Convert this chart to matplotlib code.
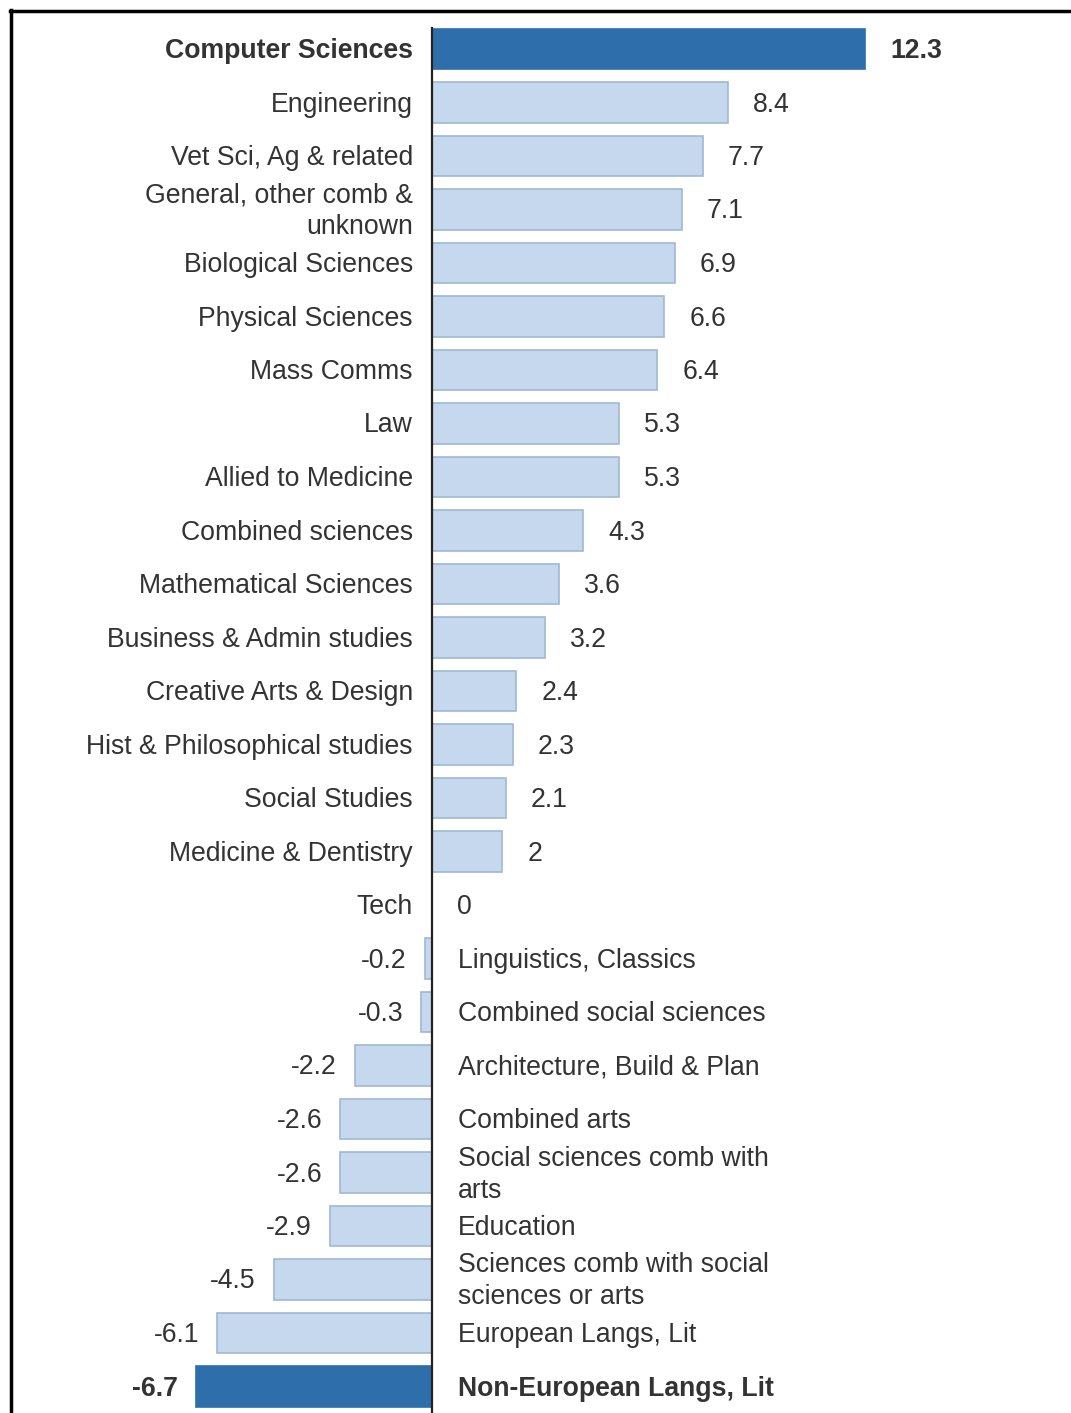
import matplotlib.pyplot as plt
from matplotlib.lines import Line2D

plt.rcParams["font.family"] = ["Liberation Sans", "DejaVu Sans"]

# data
categories = [
    "Computer Sciences", "Engineering", "Vet Sci, Ag & related",
    "General, other comb &\nunknown", "Biological Sciences", "Physical Sciences",
    "Mass Comms", "Law", "Allied to Medicine", "Combined sciences",
    "Mathematical Sciences", "Business & Admin studies", "Creative Arts & Design",
    "Hist & Philosophical studies", "Social Studies", "Medicine & Dentistry",
    "Tech", "Linguistics, Classics", "Combined social sciences",
    "Architecture, Build & Plan", "Combined arts", "Social sciences comb with\narts",
    "Education", "Sciences comb with social\nsciences or arts",
    "European Langs, Lit", "Non-European Langs, Lit",
]
values = [12.3, 8.4, 7.7, 7.1, 6.9, 6.6, 6.4, 5.3, 5.3, 4.3, 3.6, 3.2, 2.4,
          2.3, 2.1, 2, 0, -0.2, -0.3, -2.2, -2.6, -2.6, -2.9, -4.5, -6.1, -6.7]
value_labels = ["12.3", "8.4", "7.7", "7.1", "6.9", "6.6", "6.4", "5.3", "5.3",
                "4.3", "3.6", "3.2", "2.4", "2.3", "2.1", "2", "0", "-0.2", "-0.3",
                "-2.2", "-2.6", "-2.6", "-2.9", "-4.5", "-6.1", "-6.7"]
highlight = ["Computer Sciences", "Non-European Langs, Lit"]

dark = "#2E6FAB"
light = "#C6D8ED"
light_edge = "#A0B8D3"
txt = "#333333"

W, H = 1071, 1413
fig = plt.figure(figsize=(W / 100, H / 100), dpi=100)
ax = fig.add_axes([0, 0, 1, 1])

px_x = 35.2   # pixels per unit
x0 = 432      # pixel of zero
row = 53.5
y0 = 49
ax.set_xlim(-x0 / px_x, (W - x0) / px_x)
ax.set_ylim((H - y0) / row, -y0 / row)
ax.axis("off")

fs = 19.2
dy = 2 / row  # text sits a touch lower than bar centre
for i, (cat, v, lab) in enumerate(zip(categories, values, value_labels)):
    hl = cat in highlight
    ax.barh(i, v, height=0.75, color=dark if hl else light,
            edgecolor=dark if hl else light_edge, linewidth=1.2, zorder=2)
    weight = "bold" if hl else "normal"
    off_l = 19 / px_x
    off_r = 26 / px_x
    if v >= 0:
        ax.text(-off_l, i + dy, cat, ha="right", va="center", fontsize=fs,
                color=txt, weight=weight, linespacing=1.3)
        ax.text(v + 25 / px_x, i + dy, lab, ha="left", va="center", fontsize=fs,
                color=txt, weight=weight)
    else:
        ax.text(off_r, i + dy, cat, ha="left", va="center", fontsize=fs,
                color=txt, weight=weight, linespacing=1.3)
        ax.text(v - 18 / px_x, i + dy, lab, ha="right", va="center", fontsize=fs,
                color=txt, weight=weight)

# zero axis line
ax.plot([0, 0], [-0.4, len(categories) - 0.3], color="#222222", lw=1.6, zorder=3)

# frame on top and left
fig.add_artist(Line2D([10 / W, 1], [1 - 11 / H, 1 - 11 / H], color="black", lw=2.5))
fig.add_artist(Line2D([11 / W, 11 / W], [0, 1 - 10 / H], color="black", lw=2.5))

fig.savefig("out.png", dpi=100)
